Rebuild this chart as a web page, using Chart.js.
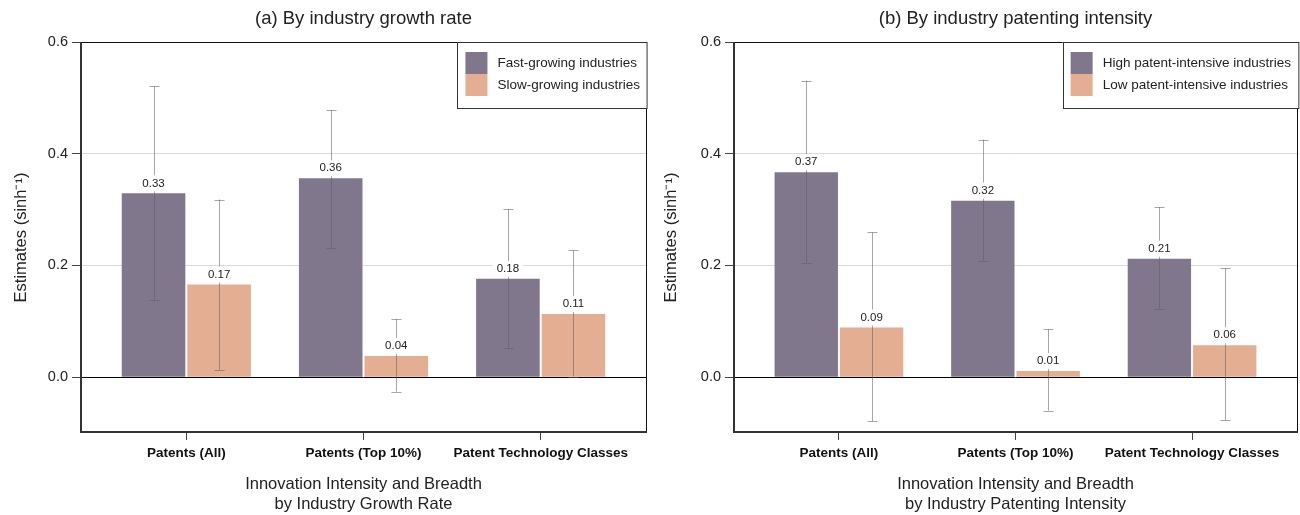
<!DOCTYPE html>
<html>
<head>
<meta charset="utf-8">
<title>Innovation estimates by industry</title>
<script src="https://cdn.jsdelivr.net/npm/chart.js@4.4.1/dist/chart.umd.min.js"></script>
<style>
  html, body { margin: 0; padding: 0; background: #fff; }
  #wrap { display: flex; width: 1300px; height: 515px; }
  canvas { display: block; }
</style>
</head>
<body>
<div id="wrap">
  <canvas id="panelA" width="650" height="515"></canvas>
  <canvas id="panelB" width="650" height="515"></canvas>
</div>
<script>
// categories and tick labels
const categories = ['Patents (All)', 'Patents (Top 10%)', 'Patent Technology Classes'];
const yTicks = [0, 0.2, 0.4, 0.6];

// (a) by industry growth rate
const fastValues = [0.329, 0.356, 0.176];
const fastLow = [0.138, 0.232, 0.053];
const fastHigh = [0.521, 0.478, 0.301];
const slowValues = [0.166, 0.038, 0.113];
const slowLow = [0.013, -0.026, 0.001];
const slowHigh = [0.318, 0.104, 0.227];

// (b) by industry patenting intensity
const highValues = [0.367, 0.316, 0.212];
const highLow = [0.204, 0.208, 0.122];
const highHigh = [0.531, 0.425, 0.304];
const lowValues = [0.089, 0.011, 0.057];
const lowLow = [-0.079, -0.060, -0.077];
const lowHigh = [0.259, 0.086, 0.195];

const PURPLE = '#80778c';
const PEACH = '#e3ae92';
const FONT = '"Liberation Sans", Arial, Helvetica, sans-serif';

Chart.defaults.font.family = FONT;
Chart.defaults.color = '#222';

// title centred over the plot area
const panelTitle = {
    id: 'panelTitle',
    afterDraw(chart, args, opts) {
        const { ctx, chartArea } = chart;
        ctx.save();
        ctx.font = '18.5px ' + FONT;
        ctx.fillStyle = '#222';
        ctx.textAlign = 'center';
        ctx.textBaseline = 'middle';
        ctx.fillText(opts.text, (chartArea.left + chartArea.right) / 2, 19);
        ctx.restore();
    }
};

// box around the plot, heavier on left and bottom
const frame = {
    id: 'frame',
    afterDatasetsDraw(chart) {
        const { ctx, chartArea: a } = chart;
        ctx.save();
        ctx.strokeStyle = '#111';
        ctx.lineWidth = 1;
        ctx.strokeRect(a.left + 0.5, a.top + 0.5, a.width - 1, a.height - 1);
        ctx.strokeStyle = '#333';
        ctx.lineWidth = 2;
        ctx.beginPath();
        ctx.moveTo(a.left + 1, a.top);
        ctx.lineTo(a.left + 1, a.bottom - 1);
        ctx.lineTo(a.right, a.bottom - 1);
        ctx.stroke();
        ctx.restore();
    }
};

// confidence intervals, then value labels on white boxes
const errorBars = {
    id: 'errorBars',
    afterDatasetsDraw(chart) {
        const { ctx, scales } = chart;
        ctx.save();
        chart.data.datasets.forEach((ds, i) => {
            const meta = chart.getDatasetMeta(i);
            meta.data.forEach((bar, j) => {
                const yLo = scales.y.getPixelForValue(ds.low[j]);
                const yHi = scales.y.getPixelForValue(ds.high[j]);
                const x = Math.round(bar.x) + 0.5;
                ctx.strokeStyle = 'rgba(95, 95, 95, 0.55)';
                ctx.lineWidth = 1;
                ctx.beginPath();
                ctx.moveTo(x, yLo);
                ctx.lineTo(x, yHi);
                ctx.moveTo(x - 5, Math.round(yLo) + 0.5);
                ctx.lineTo(x + 5, Math.round(yLo) + 0.5);
                ctx.moveTo(x - 5, Math.round(yHi) + 0.5);
                ctx.lineTo(x + 5, Math.round(yHi) + 0.5);
                ctx.stroke();
            });
        });
        ctx.font = '11.5px ' + FONT;
        ctx.textAlign = 'center';
        ctx.textBaseline = 'middle';
        chart.data.datasets.forEach((ds, i) => {
            const meta = chart.getDatasetMeta(i);
            meta.data.forEach((bar, j) => {
                const text = ds.data[j].y.toFixed(2);
                const w = ctx.measureText(text).width + 8;
                const cy = bar.y - 10;
                ctx.fillStyle = '#fff';
                ctx.fillRect(bar.x - w / 2, cy - 8, w, 16);
                ctx.fillStyle = '#222';
                ctx.fillText(text, bar.x, cy);
            });
        });
        ctx.restore();
    }
};

// legend box in the top-right corner of the plot
const boxLegend = {
    id: 'boxLegend',
    afterDraw(chart) {
        const { ctx, chartArea: a } = chart;
        ctx.save();
        ctx.font = '13.5px ' + FONT;
        const names = chart.data.datasets.map(ds => ds.label);
        const textW = Math.max(...names.map(n => ctx.measureText(n).width));
        const sw = 22;
        const w = 8 + sw + 10 + textW + 7;
        const h = 10 + sw * names.length + 12;
        const x0 = a.right - w;
        const y0 = a.top;
        ctx.fillStyle = '#fff';
        ctx.fillRect(x0, y0, w, h);
        ctx.strokeStyle = '#333';
        ctx.lineWidth = 1;
        ctx.strokeRect(Math.round(x0) + 0.5, y0 + 0.5, w, h);
        ctx.textBaseline = 'middle';
        chart.data.datasets.forEach((ds, i) => {
            const sy = y0 + 10 + i * sw;
            ctx.fillStyle = ds.backgroundColor;
            ctx.fillRect(x0 + 8, sy, sw, sw);
            ctx.fillStyle = '#222';
            ctx.fillText(ds.label, x0 + 8 + sw + 10, sy + sw / 2);
        });
        ctx.restore();
    }
};

function toPoints(values) {
    return values.map((v, i) => ({ x: i + 1, y: v }));
}

function makePanel(canvasId, opts) {
    const canvas = document.getElementById(canvasId);
    return new Chart(canvas, {
        type: 'bar',
        data: {
            datasets: opts.series.map(s => ({
                label: s.label,
                data: toPoints(s.values),
                low: s.low,
                high: s.high,
                backgroundColor: s.color,
                borderWidth: 0,
                categoryPercentage: 0.74,
                barPercentage: 0.97
            }))
        },
        options: {
            responsive: false,
            animation: false,
            devicePixelRatio: 1,
            layout: { padding: { top: 42, right: opts.padRight, left: 0, bottom: 0 } },
            plugins: {
                legend: { display: false },
                tooltip: { enabled: false },
                panelTitle: { text: opts.title }
            },
            scales: {
                x: {
                    type: 'linear',
                    min: 0.4,
                    max: 3.6,
                    offset: false,
                    afterBuildTicks: scale => {
                        scale.ticks = categories.map((c, i) => ({ value: i + 1 }));
                    },
                    afterFit: scale => { scale.height = 82; },
                    ticks: {
                        autoSkip: false,
                        maxRotation: 0,
                        padding: 5,
                        font: { size: 13.5, weight: 'bold' },
                        color: '#111',
                        callback: value => categories[value - 1]
                    },
                    grid: { offset: false, drawOnChartArea: false, tickLength: 7, tickColor: '#444' },
                    border: { display: false },
                    title: {
                        display: true,
                        text: opts.xTitle,
                        font: { size: 16.5 },
                        color: '#222',
                        padding: { top: 0, bottom: 1 }
                    }
                },
                y: {
                    min: -0.1,
                    max: 0.6,
                    afterBuildTicks: scale => {
                        scale.ticks = yTicks.map(v => ({ value: v }));
                    },
                    afterFit: scale => { scale.width = opts.yWidth; },
                    ticks: {
                        padding: 4,
                        font: { size: 14.5 },
                        color: '#222',
                        callback: value => value.toFixed(1)
                    },
                    grid: {
                        tickLength: 8,
                        tickColor: '#444',
                        lineWidth: 1,
                        color: ctx => {
                            const v = ctx.tick ? ctx.tick.value : null;
                            if (v === 0) return '#000';
                            if (v === 0.6) return 'rgba(0,0,0,0)';
                            return '#dadada';
                        }
                    },
                    border: { display: false },
                    title: {
                        display: true,
                        text: 'Estimates (sinh\u207B\u00B9)',
                        font: { size: 16.5 },
                        color: '#222',
                        padding: { top: 12, bottom: 0 }
                    }
                }
            }
        },
        plugins: [panelTitle, errorBars, frame, boxLegend]
    });
}

makePanel('panelA', {
    title: '(a) By industry growth rate',
    xTitle: ['Innovation Intensity and Breadth', 'by Industry Growth Rate'],
    yWidth: 80,
    padRight: 3,
    series: [
        { label: 'Fast-growing industries', values: fastValues, low: fastLow, high: fastHigh, color: PURPLE },
        { label: 'Slow-growing industries', values: slowValues, low: slowLow, high: slowHigh, color: PEACH }
    ]
});

makePanel('panelB', {
    title: '(b) By industry patenting intensity',
    xTitle: ['Innovation Intensity and Breadth', 'by Industry Patenting Intensity'],
    yWidth: 83,
    padRight: 2,
    series: [
        { label: 'High patent-intensive industries', values: highValues, low: highLow, high: highHigh, color: PURPLE },
        { label: 'Low patent-intensive industries', values: lowValues, low: lowLow, high: lowHigh, color: PEACH }
    ]
});
</script>
</body>
</html>
